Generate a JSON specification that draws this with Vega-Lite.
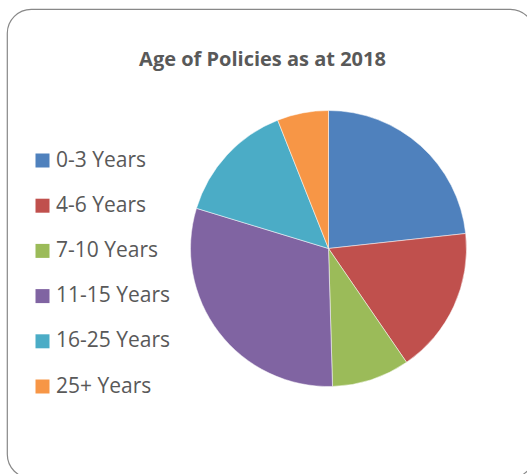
{
  "$schema": "https://vega.github.io/schema/vega-lite/v6.json",
  "width": 527,
  "height": 469,
  "autosize": "none",
  "padding": {"left": 7, "top": 9, "right": 0, "bottom": 0},
  "background": "white",
  "view": {"stroke": "#888888", "strokeWidth": 1.2, "cornerRadius": 24, "fill": "white"},
  "config": {
    "view": {"stroke": "#888888", "strokeWidth": 1.2, "cornerRadius": 24},
    "font": "Open Sans"
  },
  "title": {
    "text": "Age of Policies as at 2018",
    "font": "Open Sans",
    "fontSize": 20,
    "fontWeight": "bold",
    "color": "#595959",
    "anchor": "middle",
    "frame": "group",
    "orient": "top",
    "baseline": "alphabetic",
    "offset": -77,
    "dx": -8
  },
  "data": {
    "values": [
      {"age": "0-3 Years", "share": 23.27, "k": 1},
      {"age": "4-6 Years", "share": 17.16, "k": 2},
      {"age": "7-10 Years", "share": 9.11, "k": 3},
      {"age": "11-15 Years", "share": 30.16, "k": 4},
      {"age": "16-25 Years", "share": 14.30, "k": 5},
      {"age": "25+ Years", "share": 6.00, "k": 6}
    ]
  },
  "mark": {"type": "arc", "radius": 138, "xOffset": 58, "yOffset": 5, "stroke": "#ffffff", "strokeWidth": 0.5},
  "encoding": {
    "theta": {"field": "share", "type": "quantitative", "stack": true},
    "order": {"field": "k", "type": "quantitative"},
    "color": {
      "field": "age",
      "type": "nominal",
      "scale": {
        "domain": ["0-3 Years", "4-6 Years", "7-10 Years", "11-15 Years", "16-25 Years", "25+ Years"],
        "range": ["#4F81BD", "#C0504D", "#9BBB59", "#8064A2", "#4BACC6", "#F79646"]
      },
      "legend": {
        "title": null,
        "orient": "none",
        "legendX": 25,
        "legendY": 141,
        "padding": 0,
        "symbolType": "square",
        "symbolSize": 196,
        "symbolStrokeWidth": 0,
        "symbolOpacity": 1,
        "labelFont": "Open Sans",
        "labelFontSize": 21,
        "labelColor": "#595959",
        "labelOffset": 3,
        "rowPadding": 23.2,
        "labelLimit": 300
      }
    }
  }
}
